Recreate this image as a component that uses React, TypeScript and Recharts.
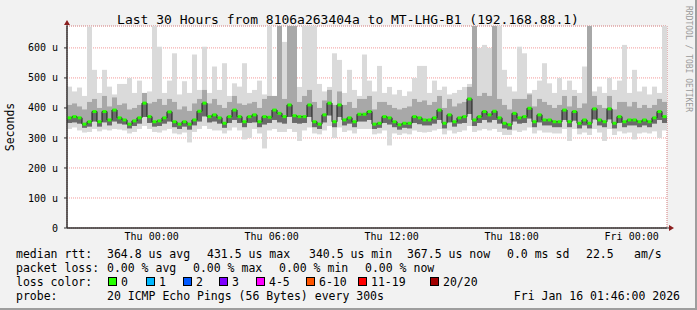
import { ComposedChart, Bar, Line, XAxis, YAxis, CartesianGrid } from 'recharts'

// time axis is in hours counted from Wed 00:00, one point every 15 minutes
const startHour = 19 + 46 / 60 // Wed 19:46
const spanHours = 30
const stepHours = 0.25

const medianRtt = [
  367, 371, 367, 346, 354, 388, 354, 388, 360, 393, 367, 360, 346, 357, 367, 416, 371, 354, 357, 367,
  387, 354, 346, 354, 346, 360, 389, 416, 371, 377, 367, 349, 371, 393, 371, 354, 371, 377, 354, 371,
  369, 393, 382, 371, 410, 374, 371, 371, 410, 354, 346, 377, 416, 354, 410, 360, 367, 354, 379, 379,
  388, 346, 349, 371, 367, 354, 344, 349, 349, 371, 367, 360, 360, 367, 393, 349, 377, 354, 367, 371,
  430, 360, 371, 388, 377, 389, 367, 349, 344, 382, 367, 371, 399, 354, 377, 360, 360, 354, 354, 393,
  354, 388, 349, 360, 349, 397, 360, 354, 397, 349, 371, 354, 360, 360, 354, 360, 354, 367, 388, 371,
]

const pingMin = [
  330, 335, 325, 318, 320, 330, 322, 328, 325, 330, 328, 325, 315, 320, 330, 340, 330, 320, 318, 325,
  330, 315, 312, 318, 285, 320, 330, 340, 330, 325, 325, 315, 325, 335, 325, 295, 300, 330, 315, 265,
  325, 330, 320, 320, 330, 320, 290, 325, 335, 315, 312, 325, 340, 300, 335, 320, 325, 315, 330, 330,
  330, 312, 315, 325, 275, 315, 310, 315, 312, 325, 320, 318, 320, 325, 330, 312, 325, 315, 320, 325,
  340, 320, 325, 330, 325, 330, 320, 310, 310, 325, 320, 325, 335, 315, 325, 318, 318, 315, 315, 330,
  290, 330, 312, 318, 310, 330, 318, 290, 330, 310, 322, 315, 318, 295, 315, 318, 315, 322, 300, 325,
]

const pingLow = [
  350, 352, 348, 334, 338, 355, 338, 352, 342, 355, 348, 345, 332, 340, 348, 370, 350, 338, 340, 348,
  355, 336, 330, 338, 328, 342, 355, 372, 352, 355, 348, 334, 350, 360, 350, 336, 350, 352, 336, 345,
  350, 360, 352, 348, 370, 350, 348, 350, 370, 336, 330, 352, 375, 336, 370, 342, 348, 336, 355, 355,
  360, 330, 334, 350, 345, 336, 328, 334, 332, 350, 346, 342, 342, 348, 360, 332, 352, 338, 348, 350,
  380, 340, 350, 360, 352, 360, 348, 332, 328, 355, 348, 350, 365, 336, 352, 342, 342, 336, 336, 360,
  336, 358, 332, 342, 332, 362, 342, 336, 362, 332, 350, 336, 342, 342, 336, 342, 336, 348, 360, 350,
]

const pingHigh = [
  410, 415, 405, 395, 420, 430, 400, 440, 405, 435, 410, 415, 395, 400, 410, 450, 415, 420, 430, 410,
  430, 420, 395, 405, 390, 415, 430, 460, 415, 430, 410, 400, 420, 440, 415, 410, 415, 420, 400, 430,
  440, 440, 673, 430, 673, 673, 420, 440, 460, 420, 400, 425, 460, 410, 455, 410, 420, 400, 430, 430,
  440, 395, 420, 420, 410, 400, 395, 400, 405, 430, 420, 425, 410, 420, 440, 400, 430, 405, 415, 420,
  470, 673, 440, 450, 440, 673, 430, 410, 395, 430, 430, 430, 445, 405, 430, 420, 410, 400, 410, 440,
  405, 440, 400, 415, 673, 440, 410, 400, 440, 395, 420, 420, 405, 420, 400, 410, 400, 410, 430, 420,
]

const pingMax = [
  471, 455, 468, 440, 671, 527, 450, 527, 471, 445, 480, 480, 500, 450, 491, 440, 455, 673, 604, 450,
  491, 582, 445, 489, 450, 578, 460, 604, 450, 538, 460, 549, 440, 482, 471, 549, 450, 460, 491, 445,
  673, 433, 673, 620, 673, 673, 470, 673, 673, 673, 480, 455, 470, 582, 560, 450, 527, 460, 440, 578,
  491, 455, 540, 450, 470, 445, 460, 440, 455, 500, 540, 540, 450, 491, 460, 471, 445, 450, 460, 470,
  480, 673, 600, 610, 600, 673, 673, 527, 471, 455, 604, 582, 450, 460, 491, 549, 482, 450, 500, 460,
  491, 460, 450, 538, 673, 455, 471, 450, 500, 460, 491, 610, 450, 527, 455, 471, 445, 471, 450, 673,
]

const labelTicks = [24, 30, 36, 42, 48]
const majorHourTicks = [21, 24, 27, 30, 33, 36, 39, 42, 45, 48]
const minorHourTicks = [
  20, 21, 22, 23, 24, 25, 26, 27, 28, 29, 30, 31, 32, 33, 34, 35, 36, 37, 38, 39,
  40, 41, 42, 43, 44, 45, 46, 47, 48, 49,
]
const valueTicks = [0, 100, 200, 300, 400, 500, 600]
const minorValueTicks = [
  0, 20, 40, 60, 80, 100, 120, 140, 160, 180, 200, 220, 240, 260, 280, 300, 320, 340,
  360, 380, 400, 420, 440, 460, 480, 500, 520, 540, 560, 580, 600, 620, 640, 660,
]
const dayNames = ['Wed', 'Thu', 'Fri']

const titleText = 'Last 30 Hours from 8106a263404a to MT-LHG-B1 (192.168.88.1)'
const rttLegend = ['364.8 us avg', '431.5 us max', '340.5 us min', '367.5 us now', '0.0 ms sd', '22.5', 'am/s']
const lossLegend = ['0.00 % avg', '0.00 % max', '0.00 % min', '0.00 % now']
const lossLabels = ['0', '1', '2', '3', '4-5', '6-10', '11-19', '20/20']
const lossColors = ['#26ff00', '#00b8ff', '#0059ff', '#7e00ff', '#ff00ff', '#ff5500', '#ff0000', '#a10000']
const probeText = '20 ICMP Echo Pings (56 Bytes) every 300s'
const stampText = 'Fri Jan 16 01:46:00 2026'

// layout of the rrdtool-style legend
const rttX = [107, 207, 309, 407, 507, 586, 634]
const lossX = [107, 193, 279, 365]
const boxX = [108, 146, 183, 219, 256, 306, 358, 430]
const rowY = [254, 268, 282, 296]

const W = 697
const H = 310
const plot = { left: 67, top: 26, right: 667, bottom: 228 }
const yMax = 673
const mono = 'DejaVu Sans Mono, monospace'

const rows = medianRtt.map((m, i) => ({
  i,
  h: startHour + i * stepHours,
  median: m,
  outer: [pingMin[i], pingMax[i]],
  inner: [pingLow[i], pingHigh[i]],
  core: [pingLow[i], m],
}))

const fmtHour = (h: number) => {
  const day = dayNames[Math.floor(h / 24)]
  const hh = String(h % 24).padStart(2, '0')
  return `${day} ${hh}:00`
}

// eslint-disable-next-line @typescript-eslint/no-explicit-any
const MedianDot = (p: any) => (
  <rect key={`d${p.index}`} x={p.cx - 2} y={p.cy - 1.5} width={4} height={3} fill="#26ff00" />
)

function Overlay() {
  return (
    <svg width={W} height={H} style={{ position: 'absolute', left: 0, top: 0, pointerEvents: 'none' }}>
      <text x={348} y={19} fontFamily={mono} fontSize={13} textAnchor="middle" dominantBaseline="central">
        {titleText}
      </text>
      <text
        x={10}
        y={127}
        fontFamily={mono}
        fontSize={11.5}
        textAnchor="middle"
        dominantBaseline="central"
        transform="rotate(-90 10 127)"
      >
        Seconds
      </text>
      <text
        x={688}
        y={6}
        fontFamily={mono}
        fontSize={8}
        fill="#9a9a9a"
        dominantBaseline="central"
        transform="rotate(90 688 6)"
      >
        RRDTOOL / TOBI OETIKER
      </text>

      {/* axis arrows */}
      <line x1={plot.left} y1={plot.bottom} x2={plot.right + 3} y2={plot.bottom} stroke="#333" />
      <line x1={plot.left} y1={plot.bottom} x2={plot.left} y2={plot.top - 2} stroke="#333" />
      <polygon
        points={`${plot.left - 3},${plot.top - 1} ${plot.left + 3},${plot.top - 1} ${plot.left},${plot.top - 6}`}
        fill="#8b1e1e"
      />
      <polygon
        points={`${plot.right + 2},${plot.bottom - 3} ${plot.right + 2},${plot.bottom + 3} ${plot.right + 7},${plot.bottom}`}
        fill="#8b1e1e"
      />

      <g fontFamily={mono} fontSize={11.5} dominantBaseline="central">
        <text x={16} y={rowY[0]}>median rtt:</text>
        {rttLegend.map((t, k) => (
          <text key={t} x={rttX[k]} y={rowY[0]}>{t}</text>
        ))}
        <text x={16} y={rowY[1]}>packet loss:</text>
        {lossLegend.map((t, k) => (
          <text key={t} x={lossX[k]} y={rowY[1]}>{t}</text>
        ))}
        <text x={16} y={rowY[2]}>loss color:</text>
        {lossLabels.map((t, k) => (
          <g key={t}>
            <rect x={boxX[k] + 0.5} y={rowY[2] - 4.5} width={8} height={8} fill={lossColors[k]} stroke="#000" />
            <text x={boxX[k] + 13} y={rowY[2]}>{t}</text>
          </g>
        ))}
        <text x={16} y={rowY[3]}>probe:</text>
        <text x={107} y={rowY[3]}>{probeText}</text>
        <text x={680} y={rowY[3]} textAnchor="end">{stampText}</text>
      </g>
    </svg>
  )
}

export default function App() {
  const tickStyle = { fontFamily: mono, fontSize: 10, fill: '#000' }
  const domainX: [number, number] = [startHour, startHour + spanHours]
  // axes that only feed the grid: drawn with nothing visible and no size
  const blank = { tick: false, tickLine: false, axisLine: false } as const
  return (
    <div
      style={{
        position: 'relative',
        width: W,
        height: H,
        background: '#f2f2f2',
        boxSizing: 'border-box',
        borderRight: '2px solid #9e9e9e',
        borderBottom: '2px solid #9e9e9e',
      }}
    >
      <style>{'body{margin:0}'}</style>
      <div
        style={{
          position: 'absolute',
          left: plot.left,
          top: plot.top,
          width: plot.right - plot.left,
          height: plot.bottom - plot.top,
          background: '#fff',
        }}
      />
      <div style={{ position: 'absolute', left: 0, top: 0 }}>
        <ComposedChart
          width={W}
          height={H}
          data={rows}
          margin={{ top: plot.top, right: W - plot.right, bottom: 62, left: 7 }}
          barCategoryGap={0}
          barGap={0}
        >
          <XAxis
            xAxisId="time"
            dataKey="h"
            type="number"
            domain={domainX}
            allowDataOverflow
            ticks={labelTicks}
            tickFormatter={fmtHour}
            tick={tickStyle}
            tickSize={3}
            tickMargin={2}
            height={20}
            axisLine={{ stroke: '#333' }}
            tickLine={false}
          />
          <XAxis xAxisId="hours" dataKey="h" type="number" domain={domainX} allowDataOverflow ticks={minorHourTicks} height={0} {...blank} />
          <XAxis xAxisId="major" dataKey="h" type="number" domain={domainX} allowDataOverflow ticks={majorHourTicks} height={0} {...blank} />
          <XAxis xAxisId="c1" dataKey="i" type="category" height={0} {...blank} />
          <XAxis xAxisId="c2" dataKey="i" type="category" height={0} {...blank} />
          <XAxis xAxisId="c3" dataKey="i" type="category" height={0} {...blank} />
          <XAxis xAxisId="c4" dataKey="i" type="category" height={0} {...blank} />
          <YAxis
            yAxisId="value"
            type="number"
            domain={[0, yMax]}
            allowDataOverflow
            ticks={valueTicks}
            tickFormatter={(v: number) => (v === 0 ? '0' : `${v} u`)}
            tick={tickStyle}
            width={60}
            tickSize={3}
            tickMargin={6}
            axisLine={{ stroke: '#333' }}
            tickLine={{ stroke: '#333' }}
          />
          <YAxis yAxisId="minor" type="number" domain={[0, yMax]} allowDataOverflow ticks={minorValueTicks} width={0} {...blank} />

          <Bar xAxisId="c1" yAxisId="value" dataKey="outer" fill="#dadada" isAnimationActive={false} />
          <Bar xAxisId="c2" yAxisId="value" dataKey="inner" fill="#a8a8a8" isAnimationActive={false} />
          <Bar xAxisId="c4" yAxisId="value" dataKey="core" fill="#6a6a6a" isAnimationActive={false} />

          <CartesianGrid
            xAxisId="hours"
            yAxisId="minor"
            stroke="#b4b4b4"
            strokeOpacity={0.7}
            strokeDasharray="1 1"
            fill="none"
          />
          <CartesianGrid
            xAxisId="major"
            yAxisId="value"
            stroke="#ef7070"
            strokeOpacity={0.7}
            strokeDasharray="1 1"
            fill="none"
          />

          <Line
            xAxisId="c3"
            yAxisId="value"
            dataKey="median"
            type="step"
            stroke="#1e1e1e"
            strokeWidth={1}
            dot={MedianDot}
            activeDot={false}
            isAnimationActive={false}
          />
        </ComposedChart>
      </div>
      <Overlay />
    </div>
  )
}
